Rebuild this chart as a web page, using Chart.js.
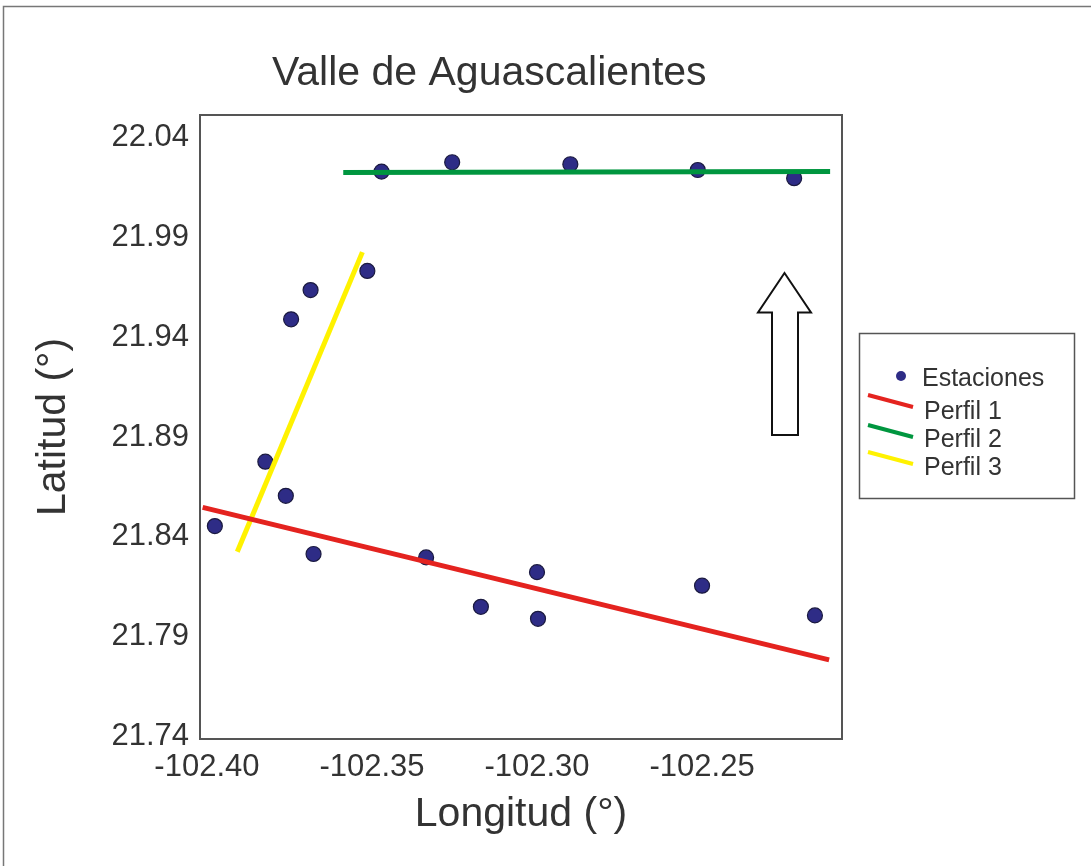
<!DOCTYPE html>
<html>
<head>
<meta charset="utf-8">
<title>Valle de Aguascalientes</title>
<script src="https://cdn.jsdelivr.net/npm/chart.js@4.4.0/dist/chart.umd.min.js"></script>
<style>
  html, body { margin: 0; padding: 0; background: #fff; }
  #wrap { width: 1091px; height: 866px; }
</style>
</head>
<body>
<div id="wrap"><canvas id="chart" width="1091" height="866"></canvas></div>
<script>
// stations (longitude / latitude)
const stationLon = [-102.3976, -102.3823, -102.3761, -102.3677, -102.3745, -102.3686,
  -102.3514, -102.3471, -102.3257, -102.2899, -102.2513, -102.2221,
  -102.3336, -102.3170, -102.3000, -102.2997, -102.2500, -102.2158];
const stationLat = [21.8453, 21.8776, 21.8605, 21.8313, 21.9490, 21.9637,
  21.9733, 22.0231, 22.0278, 22.0268, 22.0239, 22.0198,
  21.8296, 21.8048, 21.8222, 21.7988, 21.8154, 21.8005];

// profile lines (end points)
const perfil1Lon = [-102.4013, -102.2115];
const perfil1Lat = [21.8547, 21.7782];
const perfil2Lon = [-102.3587, -102.2112];
const perfil2Lat = [22.0226, 22.0231];
const perfil3Lon = [-102.3908, -102.3529];
const perfil3Lat = [21.8324, 21.9827];

const xTicks = [-102.40, -102.35, -102.30, -102.25];
const yTicks = [21.74, 21.79, 21.84, 21.89, 21.94, 21.99, 22.04];

const textColor = '#333333';
const stationColor = '#2e2c86';
const red = '#e4231f';
const green = '#00963f';
const yellow = '#fff200';

function pairs(xs, ys) {
  return xs.map((x, i) => ({ x: x, y: ys[i] }));
}

const decoPlugin = {
  id: 'deco',
  afterDatasetsDraw(chart) {
    const ctx = chart.ctx;
    const a = chart.chartArea;
    ctx.save();
    ctx.strokeStyle = '#555';
    ctx.lineWidth = 2;
    ctx.strokeRect(a.left, a.top, a.right - a.left, a.bottom - a.top);
    ctx.restore();
  },
  afterDraw(chart) {
    const ctx = chart.ctx;
    ctx.save();

    // outer frame
    ctx.strokeStyle = '#777';
    ctx.lineWidth = 1.5;
    ctx.beginPath();
    ctx.moveTo(3.5, 866);
    ctx.lineTo(3.5, 6.5);
    ctx.lineTo(1091, 6.5);
    ctx.stroke();

    // title
    ctx.fillStyle = textColor;
    ctx.font = '41px "Liberation Sans", Arial, sans-serif';
    ctx.textAlign = 'left';
    ctx.textBaseline = 'alphabetic';
    ctx.fillText('Valle de Aguascalientes', 272, 85);

    // north arrow
    ctx.beginPath();
    ctx.moveTo(784.5, 273);
    ctx.lineTo(811, 312.5);
    ctx.lineTo(798, 312.5);
    ctx.lineTo(798, 435);
    ctx.lineTo(772, 435);
    ctx.lineTo(772, 312.5);
    ctx.lineTo(758, 312.5);
    ctx.closePath();
    ctx.fillStyle = '#fff';
    ctx.fill();
    ctx.strokeStyle = '#111';
    ctx.lineWidth = 2;
    ctx.stroke();

    // legend
    ctx.strokeStyle = '#555';
    ctx.lineWidth = 1.5;
    ctx.strokeRect(859.5, 333.5, 215, 165);
    ctx.font = '25px "Liberation Sans", Arial, sans-serif';
    ctx.fillStyle = stationColor;
    ctx.beginPath();
    ctx.arc(901, 376, 5, 0, Math.PI * 2);
    ctx.fill();
    ctx.fillStyle = textColor;
    ctx.fillText(chart.data.datasets[3].label, 922, 386);
    const rows = [[0, 401, 419], [1, 431, 447], [2, 458, 475]];
    rows.forEach(r => {
      const ds = chart.data.datasets[r[0]];
      ctx.strokeStyle = ds.borderColor;
      ctx.lineWidth = 4;
      ctx.beginPath();
      ctx.moveTo(868, r[1] - 6);
      ctx.lineTo(913, r[1] + 6);
      ctx.stroke();
      ctx.fillStyle = textColor;
      ctx.fillText(ds.label, 924, r[2]);
    });

    ctx.restore();
  }
};

const lineDefaults = { showLine: true, pointRadius: 0, borderWidth: 5, fill: false, order: 1, borderCapStyle: 'butt' };

new Chart(document.getElementById('chart'), {
  type: 'scatter',
  data: {
    datasets: [
      Object.assign({ label: 'Perfil 1', data: pairs(perfil1Lon, perfil1Lat), borderColor: red, backgroundColor: red }, lineDefaults),
      Object.assign({ label: 'Perfil 2', data: pairs(perfil2Lon, perfil2Lat), borderColor: green, backgroundColor: green }, lineDefaults),
      Object.assign({ label: 'Perfil 3', data: pairs(perfil3Lon, perfil3Lat), borderColor: yellow, backgroundColor: yellow }, lineDefaults),
      {
        label: 'Estaciones',
        data: pairs(stationLon, stationLat),
        backgroundColor: stationColor,
        borderColor: '#1b1a40',
        borderWidth: 1.2,
        pointRadius: 7.5,
        order: 2
      }
    ]
  },
  options: {
    responsive: false,
    animation: false,
    devicePixelRatio: 1,
    layout: { padding: { top: 115, right: 249, left: 0, bottom: 0 } },
    plugins: {
      legend: { display: false },
      tooltip: { enabled: false },
      title: { display: false }
    },
    scales: {
      x: {
        type: 'linear',
        min: -102.4021,
        max: -102.2076,
        afterBuildTicks: s => { s.ticks = xTicks.map(v => ({ value: v })); },
        afterFit: s => { s.height = 127; },
        grid: { display: false, drawTicks: false },
        border: { display: false },
        ticks: {
          padding: 10,
          color: textColor,
          font: { family: '"Liberation Sans", Arial, sans-serif', size: 31 },
          callback: v => v.toFixed(2)
        },
        title: {
          display: true,
          text: 'Longitud (°)',
          color: textColor,
          font: { family: '"Liberation Sans", Arial, sans-serif', size: 41 },
          padding: { top: 0, bottom: 27 }
        }
      },
      y: {
        type: 'linear',
        min: 21.7385,
        max: 22.0515,
        afterBuildTicks: s => { s.ticks = yTicks.map(v => ({ value: v })); },
        afterFit: s => { s.width = 200; },
        grid: { display: false, drawTicks: false },
        border: { display: false },
        ticks: {
          padding: 11,
          color: textColor,
          font: { family: '"Liberation Sans", Arial, sans-serif', size: 31 },
          callback: v => v.toFixed(2)
        },
        title: {
          display: true,
          text: 'Latitud (°)',
          color: textColor,
          font: { family: '"Liberation Sans", Arial, sans-serif', size: 41 },
          padding: { top: 29, bottom: 0 }
        }
      }
    }
  },
  plugins: [decoPlugin]
});
</script>
</body>
</html>
